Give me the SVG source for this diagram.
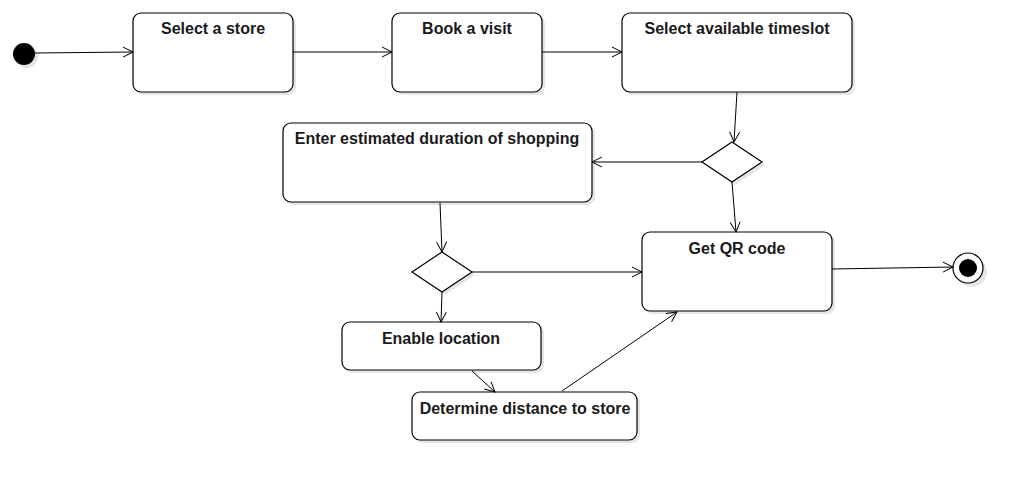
<svg xmlns="http://www.w3.org/2000/svg" width="1033" height="491" viewBox="0 0 1033 491">
<defs>
<marker id="arr" markerWidth="12" markerHeight="12" refX="10" refY="5" orient="auto" markerUnits="userSpaceOnUse" viewBox="0 0 12 10" overflow="visible">
<path d="M0,0 L10,5 L0,10" fill="none" stroke="#000" stroke-width="1"/>
</marker>
<style>
.sh{fill:#000;opacity:0.1;}
.box{fill:#fff;stroke:#000;stroke-width:1.2;}
.t{font-family:"Liberation Sans",Arial,sans-serif;font-weight:bold;font-size:16px;fill:#1a1a1a;text-anchor:middle;}
.c{fill:none;stroke:#000;stroke-width:1;marker-end:url(#arr);}
</style>
</defs>
<rect width="1033" height="491" fill="#fff"/>
<g id="start">
<circle class="sh" cx="27" cy="57" r="11"/>
<circle cx="24" cy="54" r="11" fill="#000"/>
</g>
<g id="n1">
<rect class="sh" x="136" y="16" width="160" height="79" rx="8"/>
<rect class="box" x="133" y="13" width="160" height="79" rx="8"/>
<text class="t" x="213" y="34">Select a store</text>
</g>
<g id="n2">
<rect class="sh" x="395" y="16" width="150" height="79" rx="8"/>
<rect class="box" x="392" y="13" width="150" height="79" rx="8"/>
<text class="t" x="467" y="34">Book a visit</text>
</g>
<g id="n3">
<rect class="sh" x="625" y="16" width="230" height="79" rx="8"/>
<rect class="box" x="622" y="13" width="230" height="79" rx="8"/>
<text class="t" x="737" y="34">Select available timeslot</text>
</g>
<g id="d1">
<polygon class="sh" points="705,165 735,145 765,165 735,185"/>
<polygon class="box" points="702,162 732,142 762,162 732,182"/>
</g>
<g id="n4">
<rect class="sh" x="286" y="126" width="309" height="79" rx="8"/>
<rect class="box" x="283" y="123" width="309" height="79" rx="8"/>
<text class="t" x="437" y="144">Enter estimated duration of shopping</text>
</g>
<g id="d2">
<polygon class="sh" points="415,275 445,255 475,275 445,295"/>
<polygon class="box" points="412,272 442,252 472,272 442,292"/>
</g>
<g id="n5">
<rect class="sh" x="645" y="235" width="190" height="79" rx="8"/>
<rect class="box" x="642" y="232" width="190" height="79" rx="8"/>
<text class="t" x="737" y="254">Get QR code</text>
</g>
<g id="n6">
<rect class="sh" x="345" y="325" width="199" height="48" rx="8"/>
<rect class="box" x="342" y="322" width="199" height="48" rx="8"/>
<text class="t" x="441" y="344">Enable location</text>
</g>
<g id="n7">
<rect class="sh" x="415" y="395" width="225" height="48" rx="8"/>
<rect class="box" x="412" y="392" width="225" height="48" rx="8"/>
<text class="t" x="525" y="414">Determine distance to store</text>
</g>
<g id="end">
<circle class="sh" cx="972" cy="272" r="15"/>
<circle cx="968" cy="268" r="15" fill="#fff" stroke="#000" stroke-width="1.2"/>
<circle cx="968" cy="268" r="9" fill="#000"/>
</g>
<g id="connectors">
<path class="c" d="M35,53 L133,52"/>
<path class="c" d="M293,52 L392,52"/>
<path class="c" d="M542,52 L622,52"/>
<path class="c" d="M737,92 L734,142"/>
<path class="c" d="M702,162 L592,162"/>
<path class="c" d="M732,182 L736,232"/>
<path class="c" d="M440,203 L442,252"/>
<path class="c" d="M472,272 L642,272"/>
<path class="c" d="M442,292 L441,322"/>
<path class="c" d="M472,371 L495,392"/>
<path class="c" d="M562,391 L677,312"/>
<path class="c" d="M832,269 L953,267"/>
</g>
</svg>
